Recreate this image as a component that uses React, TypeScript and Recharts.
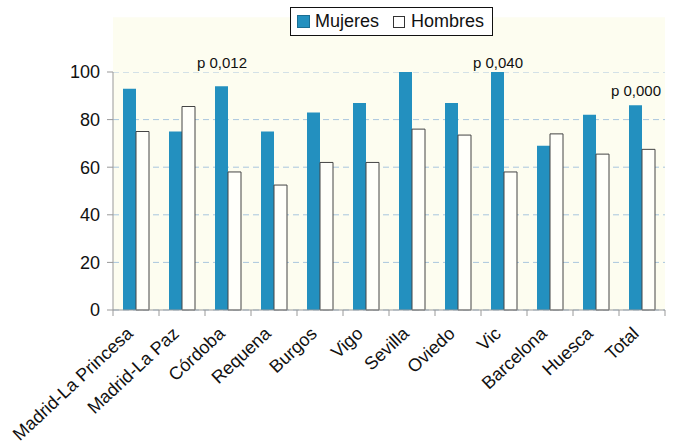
import React from 'react';
import {
  BarChart,
  Bar,
  XAxis,
  YAxis,
  CartesianGrid,
  Legend,
  ReferenceArea,
  ReferenceDot,
} from 'recharts';

const centros = [
  'Madrid-La Princesa',
  'Madrid-La Paz',
  'Córdoba',
  'Requena',
  'Burgos',
  'Vigo',
  'Sevilla',
  'Oviedo',
  'Vic',
  'Barcelona',
  'Huesca',
  'Total',
];
const mujeres = [93, 75, 94, 75, 83, 87, 100, 87, 100, 69, 82, 86];
const hombres = [75, 85.5, 58, 52.5, 62, 62, 76, 73.5, 58, 74, 65.5, 67.5];
const yTicks = [0, 20, 40, 60, 80, 100];

// p values written above some groups (level is in axis units)
const pCentros = ['Córdoba', 'Vic', 'Total'];
const pTextos = ['p 0,012', 'p 0,040', 'p 0,000'];
const pNiveles = [104, 104, 92];

const data = centros.map((c, i) => ({ centro: c, Mujeres: mujeres[i], Hombres: hombres[i] }));

const W = 673;
const H = 445;
const MARGIN = { top: 72, right: 8, left: 0, bottom: 0 };
const Y_W = 113;
const BAND = (W - MARGIN.left - MARGIN.right - Y_W) / centros.length;

const BLUE = '#2390bf';
const CREAM = '#fdfdf0';
const FONT = '"Liberation Sans", Arial, Helvetica, sans-serif';

const XTick = (props: any) => {
  const { x, y, payload, index } = props;
  const left = x - BAND / 2;
  const tx = x - 2;
  const ty = y + 25;
  return (
    <g>
      <line x1={left} y1={y} x2={left} y2={y + 6} stroke="#999" />
      {index === centros.length - 1 && (
        <line x1={x + BAND / 2} y1={y} x2={x + BAND / 2} y2={y + 6} stroke="#999" />
      )}
      <text
        x={tx}
        y={ty}
        textAnchor="end"
        fontSize={18}
        fill="#111"
        fontFamily={FONT}
        transform={`rotate(-43, ${tx}, ${ty})`}
      >
        {payload.value}
      </text>
    </g>
  );
};

const LegendBox = () => (
  <div
    style={{
      display: 'flex',
      alignItems: 'center',
      border: '1.5px solid #111',
      background: '#fff',
      padding: '0 8px 0 6px',
      fontFamily: FONT,
      fontSize: 18,
      color: '#111',
      height: 29,
      boxSizing: 'border-box',
      whiteSpace: 'nowrap',
    }}
  >
    <span style={{ width: 11, height: 11, background: BLUE, border: '1px solid #1a6e93', marginRight: 5 }} />
    <span style={{ marginRight: 14 }}>Mujeres</span>
    <span style={{ width: 10, height: 10, background: '#fff', border: '1px solid #333', marginRight: 6 }} />
    <span>Hombres</span>
  </div>
);

export default function App() {
  return (
    <div style={{ position: 'absolute', left: 0, top: 0, background: '#fff' }}>
      <BarChart
        width={W}
        height={H}
        data={data}
        margin={MARGIN}
        barCategoryGap={10}
        barGap={0}
        style={{ fontFamily: FONT }}
      >
        <CartesianGrid vertical={false} fill={CREAM} stroke="#a9c6de" strokeDasharray="6 4" />
        <ReferenceArea y1={100} y2={123} fill={CREAM} fillOpacity={1} stroke="none" ifOverflow="visible" />
        <XAxis
          dataKey="centro"
          height={135}
          interval={0}
          tickLine={false}
          tickSize={0}
          tickMargin={0}
          axisLine={{ stroke: '#999' }}
          tick={<XTick />}
        />
        <YAxis
          width={Y_W}
          domain={[0, 100]}
          ticks={yTicks}
          tickSize={6}
          tickMargin={7}
          tickLine={{ stroke: '#999' }}
          axisLine={{ stroke: '#999' }}
          tick={{ fontSize: 18, fill: '#111', fontFamily: FONT }}
        />
        <Legend
          layout="horizontal"
          verticalAlign="middle"
          align="center"
          wrapperStyle={{ top: 7, left: 290, width: 'auto' }}
          content={<LegendBox />}
        />
        <Bar dataKey="Mujeres" fill={BLUE} isAnimationActive={false} />
        <Bar dataKey="Hombres" fill="#fffffa" stroke="#444" strokeWidth={1} isAnimationActive={false} />
        {pCentros.map((c, i) => (
          <ReferenceDot
            key={c}
            x={c}
            y={pNiveles[i]}
            r={0}
            ifOverflow="visible"
            stroke="none"
            fill="none"
            label={{ value: pTextos[i], position: 'center', dx: -6, fontSize: 15, fill: '#111', fontFamily: FONT }}
          />
        ))}
      </BarChart>
    </div>
  );
}
